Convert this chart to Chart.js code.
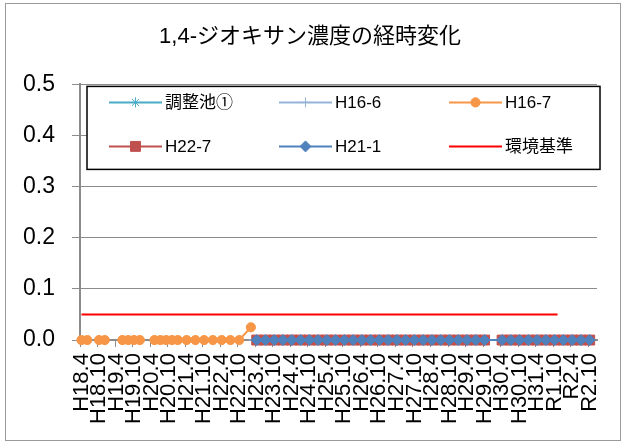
<!DOCTYPE html>
<html>
<head>
<meta charset="utf-8">
<script src="https://cdn.jsdelivr.net/npm/chart.js@4.4.0/dist/chart.umd.min.js"></script>
<style>
html, body { margin: 0; padding: 0; background: #fff; }
#wrap { position: relative; width: 622px; height: 445px; }
</style>
</head>
<body>
<div id="wrap"><canvas id="myChart" width="622" height="445"></canvas></div>
<script>
// monthly categories H18.4 .. R2.12, label shown every 6 months
const firstYear = 2006, firstMonth = 4, monthCount = 177;
const labelEvery = 6;

// measurement months and values (mg/L); null = not measured (line break)
const choseichiMonths = [];
const choseichiValues = [];

const h16_6Months = ['H23.3'];
const h16_6Values = [0];

const h16_7Months = ['H18.4','H18.6','H18.8','H18.10','H18.12','H19.2','H19.6','H19.8','H19.10','H19.12','H20.3','H20.5','H20.7','H20.9','H20.11','H21.1','H21.4','H21.7','H21.10','H22.1','H22.4','H22.7','H22.10','H23.2'];
const h16_7Values = [0, 0, null, 0, 0, null, 0, 0, 0, 0, null, 0, 0, 0, 0, 0, 0, 0, 0, 0, 0, 0, 0, 0.025];

const h22_7Months = ['H23.4','H23.7','H23.10','H24.1','H24.4','H24.7','H24.10','H25.1','H25.4','H25.7','H25.10','H26.1','H26.4','H26.7','H26.10','H27.1','H27.4','H27.7','H27.10','H28.1','H28.4','H28.7','H28.10','H29.1','H29.4','H29.7','H29.10','H30.4','H30.7','H30.10','H31.1','H31.4','R1.7','R1.10','R2.1','R2.4','R2.7','R2.10'];
const h22_7Values = [0,0,0,0,0,0,0,0,0,0,0,0,0,0,0,0,0,0,0,0,0,0,0,0,0,0,0,0,0,0,0,0,0,0,0,0,0,0];

const h21_1Months = h22_7Months;
const h21_1Values = [0,0,0,0,0,0,0,0,0,0,0,0,0,0,0,0,0,0,0,0,0,0,0,0,0,0,0,0,0,0,0,0,0,0,0,0,0,0];

const kijunMonths = ['H18.4','R1.11'];
const kijunValues = [0.05, 0.05];

function monthLabel(i) {
    const m0 = firstMonth - 1 + i;
    const year = firstYear + Math.floor(m0 / 12);
    const month = m0 % 12 + 1;
    if (year < 2019 || (year === 2019 && month < 5)) return 'H' + (year - 1988) + '.' + month;
    return 'R' + (year - 2018) + '.' + month;
}
const months = [];
for (let i = 0; i < monthCount; i++) months.push(monthLabel(i));

function points(ms, vs) {
    return ms.map((m, i) => ({ x: m, y: vs[i] }));
}

const latin = '"Liberation Sans", "Noto Sans CJK JP", sans-serif';

// white box legend inside the plot, two rows of three
const boxLegend = {
    id: 'boxLegend',
    afterDatasetsDraw(chart) {
        const { ctx, chartArea } = chart;
        const x0 = chartArea.left + 7, y0 = chartArea.top + 2;
        const w = chartArea.right + 3 - x0, h = 83;
        ctx.save();
        ctx.fillStyle = '#fff';
        ctx.fillRect(x0, y0, w, h);
        ctx.strokeStyle = '#000';
        ctx.lineWidth = 1.5;
        ctx.strokeRect(x0, y0, w, h);
        ctx.font = '17px ' + latin;
        ctx.textBaseline = 'middle';
        chart.data.datasets.forEach((ds, i) => {
            const lx = x0 + 22 + (i % 3) * 170;
            const ly = y0 + 16 + Math.floor(i / 3) * 44;
            ctx.strokeStyle = ds.borderColor;
            ctx.lineWidth = 2;
            ctx.beginPath();
            ctx.moveTo(lx, ly);
            ctx.lineTo(lx + 53, ly);
            ctx.stroke();
            if (ds.pointRadius > 0) {
                ctx.fillStyle = ds.pointBackgroundColor;
                ctx.strokeStyle = ds.pointBorderColor;
                ctx.lineWidth = ds.pointBorderWidth;
                Chart.helpers.drawPoint(ctx, { pointStyle: ds.pointStyle, radius: ds.pointRadius, borderWidth: ds.pointBorderWidth, rotation: 0 }, lx + 26.5, ly);
            }
            ctx.fillStyle = '#000';
            ctx.fillText(ds.label, lx + 56, ly + 1);
        });
        ctx.restore();
    }
};

const outerBorder = {
    id: 'outerBorder',
    afterDraw(chart) {
        const ctx = chart.ctx;
        ctx.save();
        ctx.strokeStyle = '#9a9a9a';
        ctx.lineWidth = 1;
        ctx.strokeRect(5.5, 3.5, 615, 437);
        ctx.restore();
    }
};

function series(label, color, style, radius, ms, vs, order) {
    return {
        label: label,
        data: points(ms, vs),
        borderColor: color,
        backgroundColor: color,
        borderWidth: 2,
        pointStyle: style,
        pointRadius: radius,
        pointBackgroundColor: color,
        pointBorderColor: color,
        pointBorderWidth: 1,
        spanGaps: false,
        clip: false,
        order: order
    };
}

const ctx = document.getElementById('myChart').getContext('2d');
const statisticChart = new Chart(ctx, {
    type: 'line',
    data: {
        labels: months,
        datasets: [
            series('調整池①', '#4BACC6', 'star', 5, choseichiMonths, choseichiValues, 6),
            series('H16-6', '#95B3D7', 'cross', 5, h16_6Months, h16_6Values, 5),
            series('H16-7', '#F79646', 'circle', 4.6, h16_7Months, h16_7Values, 4),
            series('H22-7', '#C0504D', 'rect', 7, h22_7Months, h22_7Values, 3),
            series('H21-1', '#4F81BD', 'rectRot', 5.5, h21_1Months, h21_1Values, 2),
            series('環境基準', '#FF0000', 'circle', 0, kijunMonths, kijunValues, 1)
        ]
    },
    options: {
        responsive: false,
        animation: false,
        layout: { padding: { left: 23, right: 25, top: 0, bottom: 15 } },
        plugins: {
            legend: { display: false },
            tooltip: { enabled: false },
            title: {
                display: true,
                text: '1,4-ジオキサン濃度の経時変化',
                color: '#000',
                font: { family: latin, size: 22, weight: 'normal' },
                padding: { top: 24, bottom: 34 }
            }
        },
        scales: {
            x: {
                type: 'category',
                offset: true,
                afterFit: (s) => { s.paddingLeft = 0; s.paddingRight = 0; },
                grid: {
                    offset: true,
                    drawOnChartArea: false,
                    drawTicks: true,
                    tickLength: 7,
                    color: (c) => (c.index % labelEvery === 0 ? '#8c8c8c' : 'rgba(0,0,0,0)')
                },
                border: { color: '#8c8c8c', width: 2 },
                ticks: {
                    autoSkip: false,
                    maxRotation: 90,
                    minRotation: 90,
                    padding: 6,
                    color: '#000',
                    font: { family: latin, size: 22 },
                    callback: function (v, i) { return i % labelEvery === 0 ? this.getLabelForValue(v) : ''; }
                }
            },
            y: {
                min: 0,
                max: 0.5,
                afterFit: (s) => { s.width = 57; },
                grid: { color: '#8c8c8c', lineWidth: 1, tickLength: 8 },
                border: { color: '#8c8c8c', width: 2 },
                ticks: {
                    stepSize: 0.1,
                    padding: 17,
                    color: '#000',
                    font: { family: latin, size: 23 },
                    callback: (v) => v.toFixed(1)
                }
            }
        }
    },
    plugins: [boxLegend, outerBorder]
});
</script>
</body>
</html>
